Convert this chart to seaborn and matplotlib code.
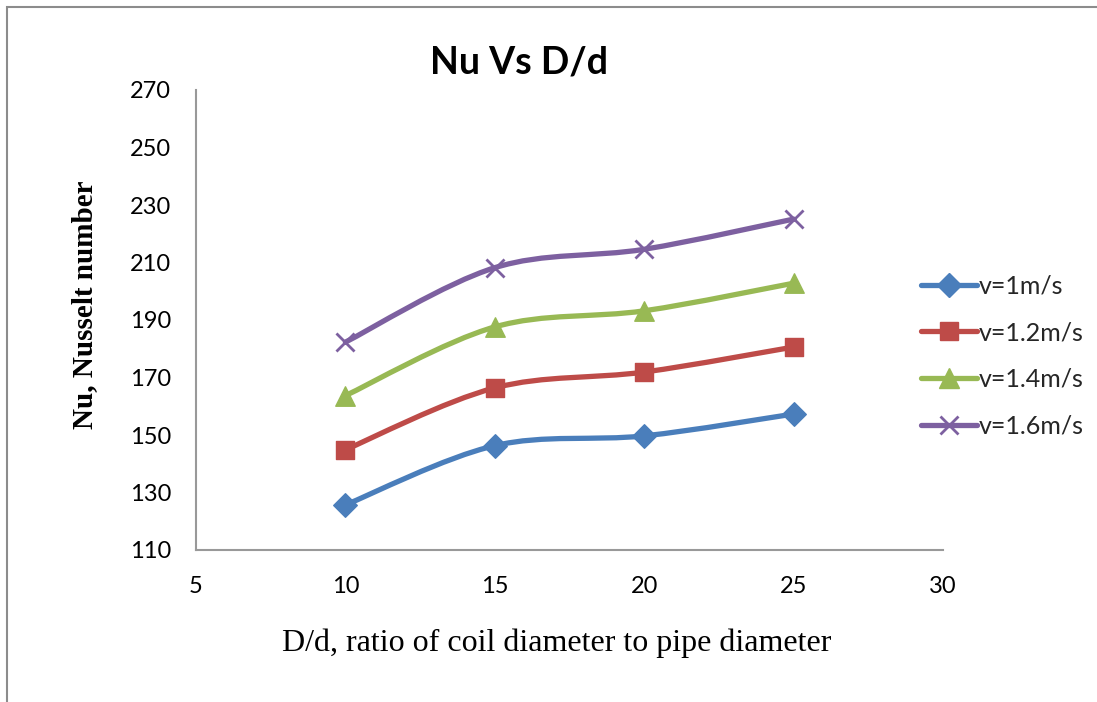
import numpy as np
import pandas as pd
import seaborn as sns
import matplotlib
matplotlib.use("Agg")
import matplotlib.pyplot as plt
from matplotlib.path import Path
from matplotlib.patches import PathPatch
from matplotlib.lines import Line2D

# ---- data ----
ratio = [10, 15, 20, 25]
nu_v1 = [125.7, 146.3, 149.7, 157.3]
nu_v12 = [144.9, 166.4, 171.9, 180.6]
nu_v14 = [163.7, 187.6, 193.2, 202.8]
nu_v16 = [182.3, 208.2, 214.6, 225.1]
series_names = ["v=1m/s", "v=1.2m/s", "v=1.4m/s", "v=1.6m/s"]
x_ticks = [5, 10, 15, 20, 25, 30]
y_ticks = [110, 130, 150, 170, 190, 210, 230, 250, 270]

colors = ["#4A7EBB", "#BE4B48", "#98B954", "#7D60A0"]
markers = ["D", "s", "^", "x"]
msizes = [12, 13, 14, 13]

df = pd.DataFrame({
    "ratio": ratio * 4,
    "Nu": nu_v1 + nu_v12 + nu_v14 + nu_v16,
    "series": sum([[n] * len(ratio) for n in series_names], []),
})

sns.set_theme(style="white")
plt.rcParams["font.family"] = ["Lato", "DejaVu Sans"]

fig = plt.figure(figsize=(10.97, 7.02), dpi=100)
ax = fig.add_axes([196 / 1097, 1 - 550 / 702, (943 - 196) / 1097, (550 - 90) / 702])

# figure border (top & left visible)
fig.add_artist(plt.Rectangle((7 / 1097, -0.1), 1.2, (1 - 7 / 702) + 0.1,
                             transform=fig.transFigure, fill=False,
                             edgecolor="#8c8c8c", linewidth=1.5))


def smooth_path(xs, ys):
    pts = np.column_stack([xs, ys])
    verts = [pts[0]]
    codes = [Path.MOVETO]
    n = len(pts)
    for i in range(n - 1):
        p0 = pts[i - 1] if i > 0 else pts[i]
        p1 = pts[i]
        p2 = pts[i + 1]
        p3 = pts[i + 2] if i + 2 < n else pts[i + 1]
        c1 = p1 + (p2 - p0) / 6.0
        c2 = p2 - (p3 - p1) / 6.0
        verts += [c1, c2, p2]
        codes += [Path.CURVE4] * 3
    return Path(verts, codes)


for name, c, m, ms in zip(series_names, colors, markers, msizes):
    sub = df[df["series"] == name]
    path = smooth_path(sub["ratio"].to_numpy(float), sub["Nu"].to_numpy(float))
    ax.add_patch(PathPatch(path, facecolor="none", edgecolor=c, linewidth=3.8,
                           capstyle="round", zorder=2))
    sns.scatterplot(data=sub, x="ratio", y="Nu", marker=m, s=ms ** 2,
                    color=c, edgecolor=c, linewidth=2 if m == "x" else 1,
                    ax=ax, zorder=3, legend=False)

ax.set_xlim(5, 30)
ax.set_ylim(110, 270)
ax.set_xticks(x_ticks)
ax.set_yticks(y_ticks)
ax.tick_params(axis="both", length=0, labelsize=17, colors="black", pad=18)
ax.tick_params(axis="x", pad=19)
for s in ["top", "right"]:
    ax.spines[s].set_visible(False)
for s in ["left", "bottom"]:
    ax.spines[s].set_color("#999999")
    ax.spines[s].set_linewidth(1.5)
ax.grid(False)

ax.set_xlabel("D/d, ratio of coil diameter to pipe diameter",
              family="Liberation Serif", fontsize=23, color="black", va="center")
ax.xaxis.set_label_coords((556.5 - 196) / 747, (550 - 643) / 460)
ax.set_ylabel("Nu, Nusselt number", family="Liberation Serif", fontsize=21,
              fontweight="bold", color="black", va="center")
ax.yaxis.set_label_coords((85 - 196) / 747, (550 - 305) / 460)
fig.text(518.5 / 1097, 1 - 63 / 702, "Nu Vs D/d", ha="center", va="center",
         fontsize=27, fontweight="bold", color="black")

handles = [Line2D([0], [0], color=c, linewidth=3.8, marker=m, markersize=ms,
                  markeredgecolor=c, markeredgewidth=2 if m == "x" else 1)
           for c, m, ms in zip(colors, markers, msizes)]
leg = fig.legend(handles, series_names, loc="center left",
                 bbox_to_anchor=(921 / 1097, 1 - 356 / 702), frameon=False,
                 fontsize=18, handlelength=2.25, handletextpad=0.05,
                 labelspacing=0.95, borderaxespad=0, borderpad=0)

fig.savefig("out.png", dpi=100)
